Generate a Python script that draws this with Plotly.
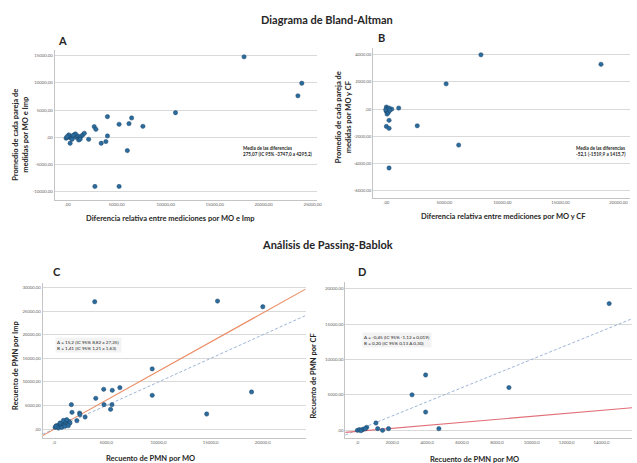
import plotly.graph_objects as go

W, H = 637, 463

# ---------------- DATA ----------------
# Panel A: Bland-Altman MO vs Imp
a_x = [18000, 23900, 23500, 11000, 4050, 6520, 5240, 6250, 7670, 2700, 2870, 4050, 2130, 3890, 3410, 6080, 2770, 5240,
       0, 170, 340, 510, 680, 850, 1010, 1180, 1350, 1520, 1690, 240, -170, 440, 780, 1110, 100, 570, 1250, -70]
a_y = [14750, 9900, 7600, 4500, 3780, 3540, 2380, 2500, 2010, 1950, 1460, 240, -370, -790, -1100, -2440, -9020, -9020,
       0, 240, -180, 120, 430, 0, 240, -180, 120, 430, 730, -1100, -180, -370, 610, -490, 430, 370, -370, 120]
# Panel B: Bland-Altman MO vs CF
b_x = [8150, 18500, 5150, 1060, 2660, 6230, 230, 0, 230, 230, 0, 60, 110, 0, 60, 170, -60, 460, 230, 290]
b_y = [4000, 3300, 1860, 75, -1230, -2650, -830, -1280, -1420, -4340, 150, 50, -50, -170, -370, -250, -50, 0, 75, -100]
# Panel C: Passing-Bablok MO vs Imp
c_x = [3890, 15660, 20000, 9400, 9400, 4750, 5570, 6300, 3990, 4780, 5540, 5410, 18920, 14620, 1650, 1710, 2440, 2470,
       2970, 2180, 95, 220, 350, 475, 630, 790, 950, 1110, 1270, 1420, 1520, 410, 730, 1040, 1360, 160, 570, 890, 1200]
c_y = [27020, 27160, 25960, 12770, 7160, 8440, 8230, 8790, 6520, 5180, 5180, 4180, 7870, 3190, 5180, 3550, 3400, 3050,
       2550, 1770, 355, 710, 500, 920, 570, 1130, 780, 1420, 990, 1630, 1280, 210, 350, 570, 710, 570, 1280, 1840, 1990]
c_fit_x = [-1100, 24100]
c_fit_y = [-1400, 29700]
c_id_x = [-1100, 24100]
c_id_y = [-1100, 24100]
# Panel D: Passing-Bablok MO vs CF
d_x = [14440, 3910, 8690, 3130, 3910, 1060, 4670, 1780, 1160, 1440, 530, 0, 110, 250, 340, 460, 190]
d_y = [17890, 7790, 6010, 4980, 2540, 990, 190, 190, 190, -50, 380, -50, 50, 0, 140, 190, -90]
d_fit_x = [-700, 15750]
d_fit_y = [-330, 3150]
d_id_x = [-700, 15750]
d_id_y = [-700, 15750]

# tick values / labels
a_xt = [0, 5000, 10000, 15000, 20000, 25000]
a_xl = [",00", "5000,00", "10000,00", "15000,00", "20000,00", "25000,00"]
a_yt = [-10000, -5000, 0, 5000, 10000, 15000]
a_yl = ["-10000,00", "-5000,00", ",00", "5000,00", "10000,00", "15000,00"]
b_xt = [0, 5000, 10000, 15000, 20000]
b_xl = [",00", "5000,00", "10000,00", "15000,00", "20000,00"]
b_yt = [-6000, -4000, -2000, 0, 2000, 4000]
b_yl = ["-6000,00", "-4000,00", "-2000,00", ",00", "2000,00", "4000,00"]
c_xt = [0, 5000, 10000, 15000, 20000]
c_xl = [",0", "5000,0", "10000,0", "15000,0", "20000,0"]
c_yt = [0, 5000, 10000, 15000, 20000, 25000, 30000]
c_yl = [",00", "5000,00", "10000,00", "15000,00", "20000,00", "25000,00", "30000,00"]
d_xt = [0, 2000, 4000, 6000, 8000, 10000, 12000, 14000]
d_xl = [",0", "2000,0", "4000,0", "6000,0", "8000,0", "10000,0", "12000,0", "14000,0"]
d_yt = [0, 5000, 10000, 15000, 20000]
d_yl = [",00", "5000,00", "10000,00", "15000,00", "20000,00"]

# ---------------- STYLE ----------------
FONT = "Lato"
MARK = dict(size=4.3, color="#2b6c9e", line=dict(color="#1a4468", width=0.5))
GRID = "#d9d9d9"
AXL = "#c4c4c4"
TICKF = dict(family=FONT, size=4.3, color="#666666")


def px(xp, yp):
    return xp / W, 1 - yp / H


def dom(x0, x1, y0, y1):
    return [x0 / W, x1 / W], [1 - y1 / H, 1 - y0 / H]


fig = go.Figure()

panels = [
    ("", a_x, a_y, dom(55, 320, 50, 200), [-1350, 25500], [-11500, 16000], a_xt, a_xl, a_yt, a_yl),
    ("2", b_x, b_y, dom(376, 635, 48, 198), [-1150, 21000], [-6550, 4500], b_xt, b_xl, b_yt, b_yl),
    ("3", c_x, c_y, dom(43, 308, 283, 438), [-1100, 24100], [-1900, 31000], c_xt, c_xl, c_yt, c_yl),
    ("4", d_x, d_y, dom(348, 637, 282, 438), [-700, 15750], [-1130, 20950], d_xt, d_xl, d_yt, d_yl),
]

layout_axes = {}
for suf, xs, ys, (xd, yd), xr, yr, xt, xl, yt, yl in panels:
    xa, ya = "x" + suf, "y" + suf
    if suf == "3":
        fig.add_trace(go.Scatter(x=c_id_x, y=c_id_y, mode="lines", xaxis=xa, yaxis=ya,
                                 line=dict(color="#93add2", width=0.9, dash="3px,2px"), showlegend=False))
        fig.add_trace(go.Scatter(x=c_fit_x, y=c_fit_y, mode="lines", xaxis=xa, yaxis=ya,
                                 line=dict(color="#ea8a62", width=1.1), showlegend=False))
    if suf == "4":
        fig.add_trace(go.Scatter(x=d_id_x, y=d_id_y, mode="lines", xaxis=xa, yaxis=ya,
                                 line=dict(color="#93add2", width=0.9, dash="3px,2px"), showlegend=False))
        fig.add_trace(go.Scatter(x=d_fit_x, y=d_fit_y, mode="lines", xaxis=xa, yaxis=ya,
                                 line=dict(color="#e07078", width=1.1), showlegend=False))
    fig.add_trace(go.Scatter(x=xs, y=ys, mode="markers", xaxis=xa, yaxis=ya,
                             marker=MARK, showlegend=False, cliponaxis=False))
    layout_axes["xaxis" + suf] = dict(domain=xd, range=xr, anchor=ya, tickvals=xt, ticktext=xl,
                                      showgrid=False, zeroline=False, showline=True, linecolor=AXL,
                                      linewidth=1, ticks="", tickfont=TICKF, fixedrange=True)
    layout_axes["yaxis" + suf] = dict(domain=yd, range=yr, anchor=xa, tickvals=yt, ticktext=yl,
                                      showgrid=True, gridcolor=GRID, gridwidth=1, zeroline=False,
                                      showline=True, linecolor=AXL, linewidth=1, ticks="",
                                      tickfont=TICKF, fixedrange=True)

fig.update_layout(**layout_axes)

ann = []


def text(xp, yp, t, size, bold=True, angle=0, xanchor="center", align="center", color="#262626", bg=None):
    x, y = px(xp, yp)
    d = dict(x=x, y=y, xref="paper", yref="paper", text=("<b>%s</b>" % t) if bold else t,
             showarrow=False, textangle=angle, xanchor=xanchor, yanchor="middle", align=align,
             font=dict(family=FONT, size=size, color=color))
    if bg:
        d["bgcolor"] = bg
    ann.append(d)


# main titles
text(330, 19, "Diagrama de Bland-Altman", 11)
text(330, 244, "Análisis de Passing-Bablok", 11)
# panel letters
text(63, 41, "A", 11)
text(385, 37, "B", 11)
text(57, 271, "C", 11)
text(365, 271, "D", 11)
# axis titles
text(20, 135, "Promedio de cada pareja de<br>medidas por MO e Imp", 7.5, angle=-90)
text(346, 117, "Promedio de cada pareja de<br>medidas por MO y CF", 7.5, angle=-90)
text(172, 218, "Diferencia relativa entre mediciones por MO e Imp", 7.5)
text(507, 216, "Diferencia relativa entre mediciones por MO y CF", 7.5)
text(15, 365, "Recuento de PMN por Imp", 7.5, angle=-90)
text(315, 376, "Recuento de PMN por CF", 7.5, angle=-90)
text(152, 458, "Recuento de PMN por MO", 7.5)
text(478, 459, "Recuento de PMN por MO", 7.5)
# statistic boxes
text(243, 151, "Media de las diferencias<br>275,07 (IC 95% -3747,0 a 4295,2)", 4.6, xanchor="left", align="left")
text(579, 151, "Media de las diferencias<br>-52,1 (-1519,9 a 1415,7)", 4.6, xanchor="left", align="left")
text(55, 345, "A = 15,2 (IC 95% 8,82 a 27,25)<br>B = 1,41 (IC 95% 1,21 a 1,63)", 4.6, bold=False,
     xanchor="left", align="left", bg="#f3f3f3")
text(365, 340, "A = -0,45 (IC 95% -1,12 a 0,019)<br>B = 0,20 (IC 95% 0,13 A 0,30)", 4.6, bold=False,
     xanchor="left", align="left", bg="#f3f3f3")

fig.update_layout(width=W, height=H, margin=dict(l=0, r=0, t=0, b=0),
                  paper_bgcolor="white", plot_bgcolor="white", annotations=ann,
                  font=dict(family=FONT))

fig.write_html("out.html", config={"displayModeBar": False})
